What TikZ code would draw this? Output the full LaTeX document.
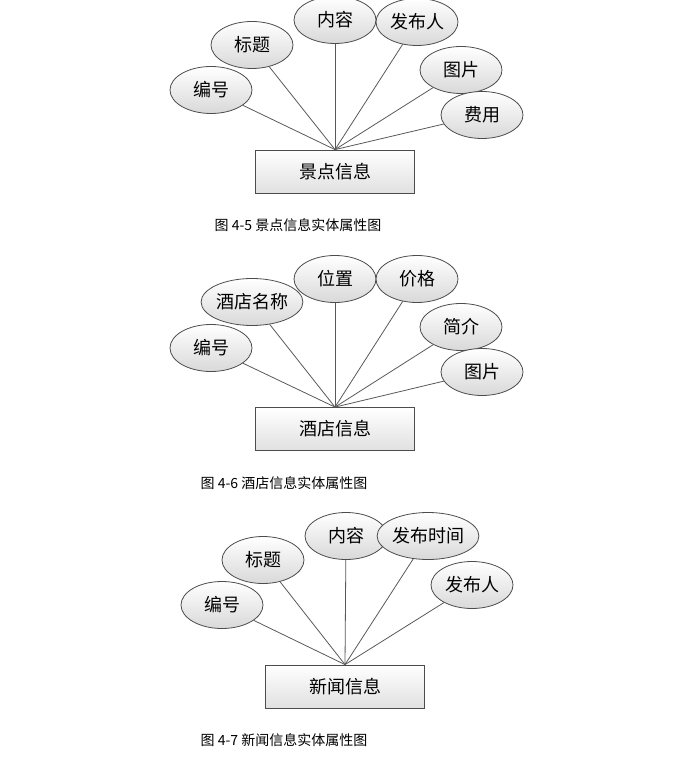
\documentclass[tikz,border=0pt]{standalone}
\usepackage{fontspec}
\setmainfont{Noto Sans CJK SC}
\usetikzlibrary{shapes.geometric}
\tikzset{
    attr/.style={ellipse, draw=black!70, top color=white, bottom color=black!15,
      minimum width=41pt, minimum height=23.5pt, inner sep=0pt, font=\fontsize{9}{10}\selectfont},
    entity/.style={rectangle, draw=black!70, top color=white, bottom color=black!12,
      minimum width=79.5pt, minimum height=21.5pt, font=\fontsize{9}{10}\selectfont},
    caption/.style={font=\fontsize{7}{8}\selectfont},
    link/.style={draw=black!65, line width=0.4pt},
}
\begin{document}
\begin{tikzpicture}[x=0.5pt, y=-0.5pt]
    \useasboundingbox (0,0) rectangle (677,780);

    % diagram 4-5
    \node[entity] (jd) at (335,171.5) {景点信息};
    \node[attr] (jd1) at (211,90) {编号};
    \node[attr] (jd2) at (252,45) {标题};
    \node[attr] (jd3) at (335,20) {内容};
    \node[attr] (jd4) at (417,22) {发布人};
    \node[attr] (jd5) at (461,70) {图片};
    \node[attr] (jd6) at (482,115) {费用};
    \foreach \i in {1,...,6} \draw[link] (jd\i) -- (jd.north);
    \node[caption] (cap1) at (298,225) {图 4-5 景点信息实体属性图};

    % diagram 4-6
    \node[entity] (jt) at (335,429) {酒店信息};
    \node[attr] (jt1) at (211,348) {编号};
    \node[attr] (jt2) at (252,302) {酒店名称};
    \node[attr] (jt3) at (335,279) {位置};
    \node[attr] (jt4) at (417,279) {价格};
    \node[attr] (jt5) at (461,327) {简介};
    \node[attr] (jt6) at (482,372) {图片};
    \foreach \i in {1,...,6} \draw[link] (jt\i) -- (jt.north);
    \node[caption] (cap2) at (284,483) {图 4-6 酒店信息实体属性图};

    % diagram 4-7
    \node[entity] (xw) at (345,686.5) {新闻信息};
    \node[attr] (xw1) at (222,605) {编号};
    \node[attr] (xw2) at (263,560) {标题};
    \node[attr] (xw3) at (346,536) {内容};
    \node[attr] (xw4) at (428,536) {发布时间};
    \node[attr] (xw5) at (472,585) {发布人};
    \foreach \i in {1,...,5} \draw[link] (xw\i) -- (xw.north);
    \node[caption] (cap3) at (284,740) {图 4-7 新闻信息实体属性图};
\end{tikzpicture}
\end{document}
